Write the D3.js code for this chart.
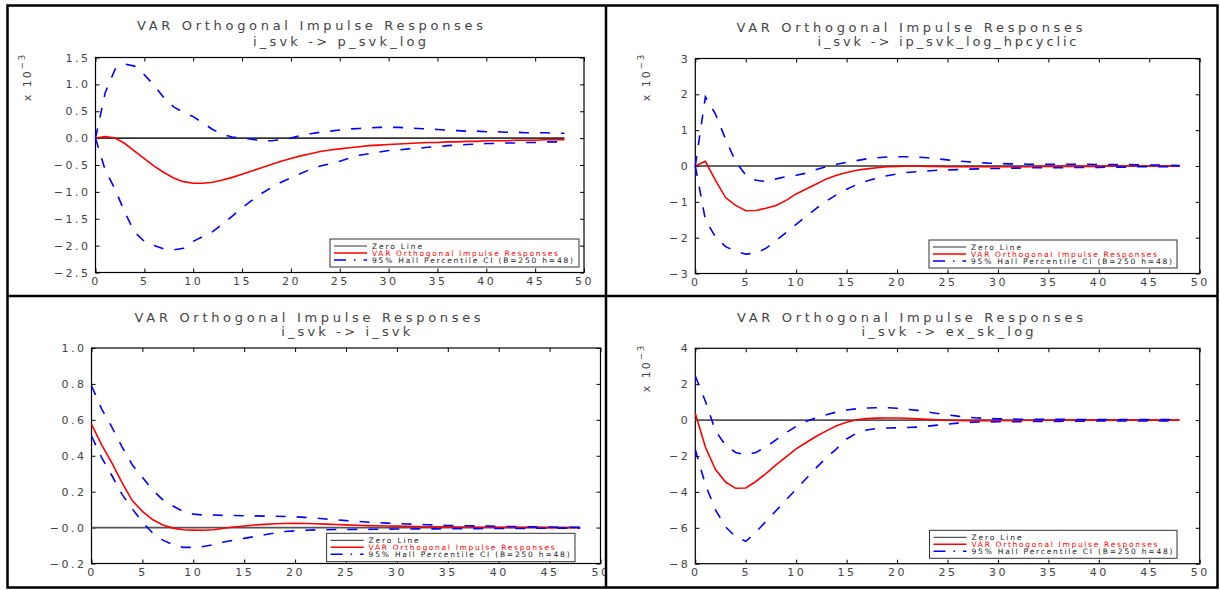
<!DOCTYPE html>
<html><head><meta charset="utf-8">
<script src="https://cdn.jsdelivr.net/npm/d3@7"></script>
<style>body{margin:0;background:#fff;} svg{display:block;}</style>
</head><body><svg id="c" width="1220" height="590"></svg>
<script>
// ---------------- DATA ----------------
const horizon = [0,1,2,3,4,5,6,7,8,9,10,11,12,13,14,15,16,17,18,19,20,21,22,23,24,25,26,27,28,29,30,31,32,33,34,35,36,37,38,39,40,41,42,43,44,45,46,47,48];
const xTicks = [0,5,10,15,20,25,30,35,40,45,50];
const titleText = "VAR Orthogonal Impulse Responses";
const subtitles = ["i_svk -> p_svk_log", "i_svk -> ip_svk_log_hpcyclic", "i_svk -> i_svk", "i_svk -> ex_sk_log"];
const legendLabels = ["Zero Line", "VAR Orthogonal Impulse Responses", "95% Hall Percentile CI (B=250 h=48)"];

// Panel 1: i_svk -> p_svk_log (x 10^-3)
const p1Irf = [0,0.03,0.0,-0.1,-0.24,-0.38,-0.52,-0.64,-0.74,-0.81,-0.84,-0.84,-0.82,-0.78,-0.73,-0.67,-0.61,-0.55,-0.49,-0.43,-0.38,-0.33,-0.29,-0.25,-0.22,-0.2,-0.18,-0.16,-0.14,-0.13,-0.12,-0.11,-0.1,-0.09,-0.08,-0.08,-0.07,-0.07,-0.06,-0.06,-0.05,-0.05,-0.05,-0.04,-0.04,-0.04,-0.03,-0.03,-0.03];
const p1Upper = [0,0.85,1.28,1.38,1.34,1.18,0.98,0.75,0.58,0.48,0.4,0.28,0.16,0.07,0.02,0.0,-0.02,-0.05,-0.05,-0.03,0.0,0.05,0.08,0.11,0.13,0.15,0.17,0.18,0.19,0.2,0.2,0.2,0.19,0.18,0.17,0.16,0.15,0.14,0.13,0.13,0.12,0.12,0.11,0.11,0.1,0.1,0.1,0.09,0.09];
const p1Lower = [0,-0.6,-0.95,-1.38,-1.75,-1.92,-2.0,-2.06,-2.08,-2.05,-1.92,-1.83,-1.74,-1.6,-1.45,-1.3,-1.16,-1.03,-0.92,-0.82,-0.74,-0.66,-0.58,-0.52,-0.48,-0.43,-0.37,-0.32,-0.29,-0.26,-0.23,-0.22,-0.2,-0.19,-0.17,-0.16,-0.14,-0.13,-0.12,-0.11,-0.1,-0.1,-0.09,-0.09,-0.08,-0.08,-0.07,-0.07,-0.07];
const p1YTicks = [1.5,1.0,0.5,0.0,-0.5,-1.0,-1.5,-2.0,-2.5];
const p1YLabels = ["1.5","1.0","0.5","0.0","\u22120.5","\u22121.0","\u22121.5","\u22122.0","\u22122.5"];

// Panel 2: i_svk -> ip_svk_log_hpcyclic (x 10^-3)
const p2Irf = [0,0.13,-0.4,-0.88,-1.1,-1.25,-1.24,-1.18,-1.1,-0.96,-0.78,-0.64,-0.5,-0.36,-0.26,-0.18,-0.12,-0.08,-0.05,-0.02,-0.01,0,0,-0.01,-0.01,-0.02,-0.02,-0.02,-0.02,-0.02,-0.02,-0.02,-0.02,-0.02,-0.01,-0.01,-0.01,-0.01,-0.01,-0.01,-0.01,0,0,0,0,0,0,0,0];
const p2Upper = [0,1.93,1.45,0.75,0.12,-0.25,-0.4,-0.43,-0.36,-0.3,-0.26,-0.2,-0.1,-0.02,0.05,0.1,0.15,0.2,0.23,0.25,0.26,0.26,0.25,0.23,0.2,0.17,0.14,0.12,0.1,0.08,0.07,0.06,0.06,0.05,0.05,0.05,0.05,0.05,0.05,0.05,0.04,0.04,0.04,0.04,0.03,0.03,0.03,0.02,0.01];
const p2Lower = [0,-1.5,-1.98,-2.25,-2.38,-2.46,-2.43,-2.3,-2.08,-1.86,-1.63,-1.4,-1.18,-0.98,-0.8,-0.65,-0.52,-0.42,-0.34,-0.27,-0.22,-0.18,-0.16,-0.14,-0.12,-0.11,-0.1,-0.09,-0.08,-0.07,-0.07,-0.06,-0.06,-0.05,-0.05,-0.05,-0.05,-0.04,-0.04,-0.04,-0.04,-0.03,-0.03,-0.03,-0.02,-0.02,-0.02,-0.02,-0.01];
const p2YTicks = [3,2,1,0,-1,-2,-3];
const p2YLabels = ["3","2","1","0","\u22121","\u22122","\u22123"];

// Panel 3: i_svk -> i_svk
const p3Irf = [0.575,0.46,0.36,0.25,0.15,0.09,0.045,0.015,-0.003,-0.012,-0.014,-0.015,-0.012,-0.004,0.003,0.009,0.014,0.018,0.021,0.023,0.024,0.023,0.021,0.019,0.017,0.015,0.013,0.011,0.01,0.009,0.008,0.007,0.006,0.005,0.005,0.004,0.003,0.003,0.002,0.002,0.002,0.001,0.001,0.001,0.001,0,0,0,0];
const p3Upper = [0.79,0.66,0.56,0.45,0.35,0.28,0.21,0.155,0.12,0.09,0.075,0.07,0.07,0.068,0.067,0.066,0.065,0.064,0.063,0.062,0.06,0.057,0.053,0.048,0.043,0.039,0.035,0.031,0.028,0.025,0.022,0.02,0.018,0.016,0.014,0.012,0.011,0.01,0.009,0.008,0.007,0.006,0.005,0.004,0.004,0.003,0.002,0.002,0.001];
const p3Lower = [0.51,0.39,0.29,0.185,0.105,0.03,-0.03,-0.07,-0.095,-0.11,-0.11,-0.105,-0.095,-0.08,-0.07,-0.06,-0.05,-0.04,-0.03,-0.022,-0.018,-0.015,-0.013,-0.012,-0.011,-0.011,-0.01,-0.01,-0.009,-0.009,-0.008,-0.008,-0.007,-0.007,-0.007,-0.006,-0.006,-0.006,-0.006,-0.005,-0.005,-0.005,-0.005,-0.004,-0.004,-0.004,-0.003,-0.003,-0.003];
const p3YTicks = [1.0,0.8,0.6,0.4,0.2,0.0,-0.2];
const p3YLabels = ["1.0","0.8","0.6","0.4","0.2","\u22120.0","\u22120.2"];

// Panel 4: i_svk -> ex_sk_log (x 10^-3)
const p4Irf = [0.37,-1.5,-2.75,-3.45,-3.8,-3.78,-3.42,-2.98,-2.5,-2.05,-1.6,-1.25,-0.9,-0.6,-0.32,-0.12,0.02,0.08,0.11,0.12,0.12,0.1,0.07,0.04,0.01,-0.01,-0.02,-0.03,-0.03,-0.03,-0.03,-0.02,-0.02,-0.01,-0.01,-0.01,0,0,0,0,0,0,0,0,0,0,0,0,0];
const p4Upper = [2.46,1.05,-0.6,-1.4,-1.8,-1.95,-1.8,-1.5,-1.1,-0.7,-0.35,-0.07,0.12,0.3,0.45,0.56,0.63,0.67,0.69,0.69,0.66,0.6,0.54,0.46,0.37,0.29,0.22,0.16,0.12,0.09,0.07,0.06,0.05,0.05,0.04,0.04,0.04,0.04,0.03,0.03,0.03,0.03,0.03,0.03,0.03,0.03,0.03,0.03,0.03];
const p4Lower = [-1.64,-3.6,-5.0,-5.95,-6.5,-6.75,-6.25,-5.64,-5.05,-4.45,-3.85,-3.25,-2.65,-2.1,-1.6,-1.05,-0.72,-0.55,-0.47,-0.44,-0.43,-0.41,-0.39,-0.34,-0.28,-0.22,-0.17,-0.13,-0.11,-0.1,-0.09,-0.09,-0.09,-0.08,-0.08,-0.07,-0.07,-0.06,-0.06,-0.06,-0.05,-0.05,-0.05,-0.05,-0.05,-0.05,-0.05,-0.05,-0.05];
const p4YTicks = [4,2,0,-2,-4,-6,-8];
const p4YLabels = ["4","2","0","\u22122","\u22124","\u22126","\u22128"];

const panels = [
  {irf:p1Irf, upper:p1Upper, lower:p1Lower, yTicks:p1YTicks, yLabels:p1YLabels, sub:subtitles[0], scaled:true},
  {irf:p2Irf, upper:p2Upper, lower:p2Lower, yTicks:p2YTicks, yLabels:p2YLabels, sub:subtitles[1], scaled:true},
  {irf:p3Irf, upper:p3Upper, lower:p3Lower, yTicks:p3YTicks, yLabels:p3YLabels, sub:subtitles[2], scaled:false},
  {irf:p4Irf, upper:p4Upper, lower:p4Lower, yTicks:p4YTicks, yLabels:p4YLabels, sub:subtitles[3], scaled:true}
];

// ---------------- LAYOUT ----------------
const layout = [
  {clip:[7,5,599,291], plot:[95.5,57.5,584,272.5], title:[310,25], sub:[339.5,41,173], exp:[27,77], legend:[330,239,249,28], zero:"#333"},
  {clip:[606,5,612,291], plot:[695.3,58.5,1199.7,273.5], title:[909.5,27], sub:[947,41,259], exp:[646,77], legend:[929,240,248,28], zero:"#333"},
  {clip:[7,296,599,292], plot:[91.5,348,600.5,563.5], title:[307.6,317], sub:[345.7,331,129], exp:null, legend:[326.6,533.3,248.4,28.4], zero:"#555"},
  {clip:[606,296,612,292], plot:[695.3,348.3,1199.7,563.7], title:[910,317], sub:[947.5,331.7,172], exp:[646,368], legend:[929.5,530.3,247.5,28], zero:"#555"}
];
const FONT = "DejaVu Sans, Verdana, sans-serif";
const TXT = "#444";

const svg = d3.select("#c");
svg.append("rect").attr("width",1220).attr("height",590).attr("fill","#fff");
const defs = svg.append("defs");

panels.forEach((p,i)=>{
  const L = layout[i];
  defs.append("clipPath").attr("id","clip"+i).append("rect")
    .attr("x",L.clip[0]).attr("y",L.clip[1]).attr("width",L.clip[2]).attr("height",L.clip[3]);
  const g = svg.append("g").attr("clip-path",`url(#clip${i})`);
  const [x0,y0,x1,y1] = L.plot;
  const x = d3.scaleLinear().domain([xTicks[0], xTicks[xTicks.length-1]]).range([x0,x1]);
  const y = d3.scaleLinear().domain([p.yTicks[p.yTicks.length-1], p.yTicks[0]]).range([y1,y0]);

  // titles
  g.append("text").attr("x",L.title[0]).attr("y",L.title[1]).attr("dy","0.36em")
    .attr("text-anchor","middle").attr("font-family",FONT).attr("font-size",13)
    .attr("fill",TXT).attr("textLength",346).attr("lengthAdjust","spacing").text(titleText);
  g.append("text").attr("x",L.sub[0]).attr("y",L.sub[1]).attr("dy","0.36em")
    .attr("text-anchor","middle").attr("font-family",FONT).attr("font-size",13)
    .attr("fill",TXT).attr("textLength",L.sub[2]).attr("lengthAdjust","spacing").text(p.sub);

  // axes
  const styleAxis = sel => {
    sel.select(".domain").remove();
    sel.selectAll(".tick line").attr("stroke","#000").attr("stroke-width",1);
    sel.selectAll(".tick text").attr("font-family",FONT).attr("font-size",11)
      .attr("letter-spacing","2.5px").attr("fill",TXT);
  };
  g.append("g").attr("transform",`translate(0,${y1})`)
    .call(d3.axisBottom(x).tickValues(xTicks).tickSize(-4).tickPadding(5).tickFormat(d=>String(d)))
    .call(styleAxis);
  g.append("g").attr("transform",`translate(0,${y0})`)
    .call(d3.axisTop(x).tickValues(xTicks).tickSize(-4).tickFormat(""))
    .call(styleAxis);
  g.append("g").attr("transform",`translate(${x0},0)`)
    .call(d3.axisLeft(y).tickValues(p.yTicks).tickSize(-4).tickPadding(5).tickFormat((d,k)=>p.yLabels[k]))
    .call(styleAxis);
  g.append("g").attr("transform",`translate(${x1},0)`)
    .call(d3.axisRight(y).tickValues(p.yTicks).tickSize(-4).tickFormat(""))
    .call(styleAxis);

  // frame
  g.append("rect").attr("x",x0).attr("y",y0).attr("width",x1-x0).attr("height",y1-y0)
    .attr("fill","none").attr("stroke","#000").attr("stroke-width",1.2);

  // exponent label
  if (p.scaled && L.exp) {
    const t = g.append("text").attr("transform",`translate(${L.exp[0]},${L.exp[1]}) rotate(-90)`)
      .attr("text-anchor","middle").attr("dy","0.36em").attr("font-family",FONT).attr("font-size",11)
      .attr("letter-spacing","2px").attr("fill",TXT);
    t.append("tspan").text("x 10");
    t.append("tspan").attr("font-size",8.5).attr("dy","-0.65em").text("\u22123");
  }

  const line = d3.line().x((d,j)=>x(horizon[j])).y(d=>y(d));
  // zero line
  g.append("line").attr("x1",x(horizon[0])).attr("x2",x(horizon[horizon.length-1]))
    .attr("y1",y(0)).attr("y2",y(0)).attr("stroke",L.zero).attr("stroke-width",1.6);
  // IRF
  g.append("path").datum(p.irf).attr("d",line).attr("fill","none")
    .attr("stroke","#ff0000").attr("stroke-width",1.6);
  // CI bands
  [p.upper,p.lower].forEach(arr=>{
    g.append("path").datum(arr).attr("d",line).attr("fill","none")
      .attr("stroke","#0000ff").attr("stroke-width",1.6).attr("stroke-dasharray","10,11");
  });

  // legend
  const [lx,ly,lw,lh] = L.legend;
  const lg = g.append("g");
  lg.append("rect").attr("x",lx).attr("y",ly).attr("width",lw).attr("height",lh)
    .attr("fill","#fff").attr("stroke","#333").attr("stroke-width",1);
  const legendStyles = [
    {stroke:L.zero, dash:null, text:"#222", len:50},
    {stroke:"#ff0000", dash:null, text:"#ff0000", len:186},
    {stroke:"#0000ff", dash:"12,8,1.5,8", text:"#222", len:201}
  ];
  legendLabels.forEach((lab,k)=>{
    const s = legendStyles[k];
    const ry = ly + 7 + k*7;
    const ln = lg.append("line").attr("x1",lx+4).attr("x2",lx+37).attr("y1",ry).attr("y2",ry)
      .attr("stroke",s.stroke).attr("stroke-width",k===0?1.2:1.6);
    if (s.dash) ln.attr("stroke-dasharray",s.dash);
    lg.append("text").attr("x",lx+42).attr("y",ry).attr("dy","0.36em")
      .attr("font-family",FONT).attr("font-size",7.5).attr("fill",s.text)
      .attr("textLength",s.len).attr("lengthAdjust","spacing").text(lab);
  });
});

// outer frame & dividers
svg.append("rect").attr("x",7.5).attr("y",5.5).attr("width",1210).attr("height",582)
  .attr("fill","none").attr("stroke","#000").attr("stroke-width",2.5);
svg.append("line").attr("x1",606).attr("x2",606).attr("y1",5).attr("y2",588).attr("stroke","#000").attr("stroke-width",2.5);
svg.append("line").attr("x1",7).attr("x2",1218).attr("y1",296).attr("y2",296).attr("stroke","#000").attr("stroke-width",2.5);
</script>
</body></html>
